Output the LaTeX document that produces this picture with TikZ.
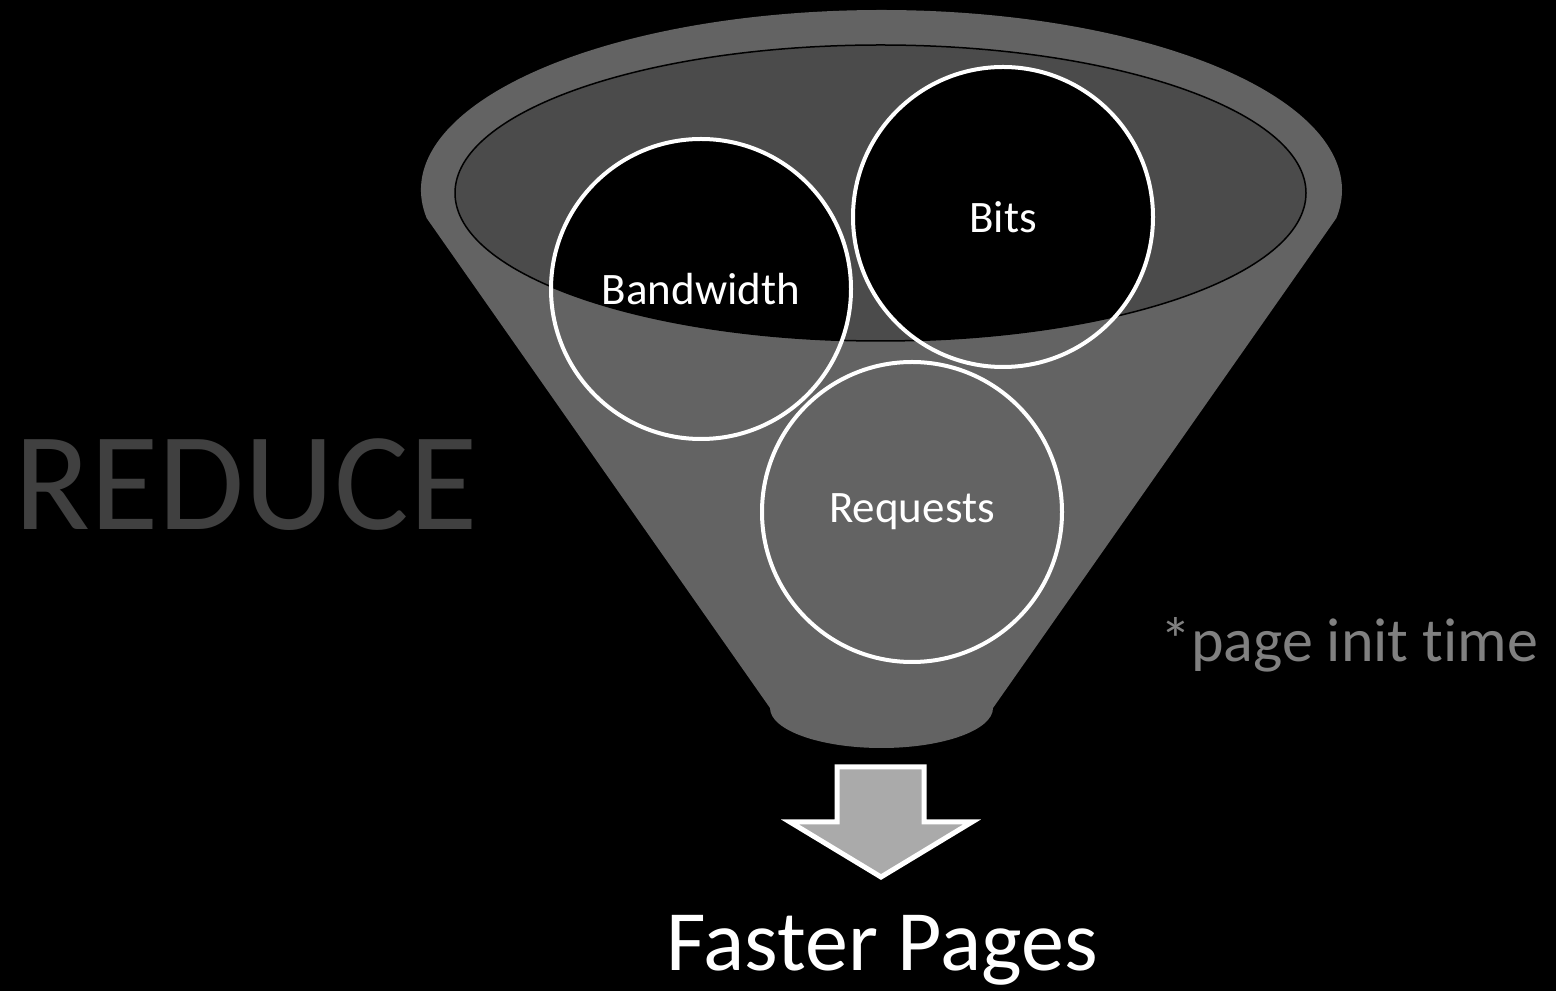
\documentclass[tikz,border=0pt]{standalone}
\usepackage{fontspec}
\setmainfont{Carlito}[Ligatures=NoCommon]
\usepackage{tikz}
\definecolor{funnelgray}{RGB}{99, 99, 99}
\definecolor{mouthgray}{RGB}{75, 75, 75}
\definecolor{arrowgray}{RGB}{170, 170, 170}
\definecolor{reducegray}{RGB}{64, 64, 64}
\definecolor{notegray}{RGB}{128, 128, 128}

\begin{document}
\begin{tikzpicture}[x=1pt, y=1pt,
    ring/.style={draw=white, line width=4pt},
    ringlabel/.style={text=white, font=\fontsize{45}{54}\selectfont}]
% Background
\useasboundingbox (0,0) rectangle (1556,991);
\fill[black] (0,0) rectangle (1556,991);

% Funnel body
\fill[funnelgray] (881.5,801) ++(189:460.5 and 180)
    arc[start angle=189, end angle=-9, x radius=460.5, y radius=180]
    -- (993,283) arc[start angle=0, end angle=-180, x radius=111.5, y radius=40]
    -- cycle;

% Funnel mouth
\fill[mouthgray] (880.5,798) ellipse[x radius=425.5, y radius=148];

% Circles (black where they sit in the mouth)
\coordinate (bandwidth-c) at (701,702);
\coordinate (bits-c) at (1003,774);
\coordinate (requests-c) at (912,479);
\begin{scope}
    \clip (880.5,798) ellipse[x radius=425.5, y radius=148];
    \foreach \c in {bandwidth-c, bits-c, requests-c} {
        \fill[black] (\c) circle[radius=150];
    }
\end{scope}
\draw[black, line width=1.5pt] (880.5,798) ellipse[x radius=425.5, y radius=148];
\foreach \c in {bandwidth-c, bits-c, requests-c} {
    \draw[ring] (\c) circle[radius=150];
}
\node[ringlabel] (bandwidth) at (bandwidth-c) {Bandwidth};
\node[ringlabel] (bits) at (bits-c) {Bits};
\node[ringlabel] (requests) at (requests-c) {Requests};

% Down arrow
\filldraw[fill=arrowgray, draw=white, line width=5pt, line join=miter]
    (837,224) -- (924,224) -- (924,169) -- (972,169) -- (881,114)
    -- (790,169) -- (837,169) -- cycle;

% Texts
\node[anchor=base west, inner sep=0pt, text=reducegray,
    font=\fontsize{140}{168}\selectfont] (reduce) at (14,461) {REDUCE};
\node[anchor=base, inner sep=0pt, text=white,
    font=\fontsize{86}{103}\selectfont] (faster) at (882,20) {Faster Pages};
\node[anchor=base west, inner sep=0pt, text=notegray,
    font=\fontsize{62}{74}\selectfont] (note) at (1160,329) {*page init time};
\end{tikzpicture}
\end{document}
